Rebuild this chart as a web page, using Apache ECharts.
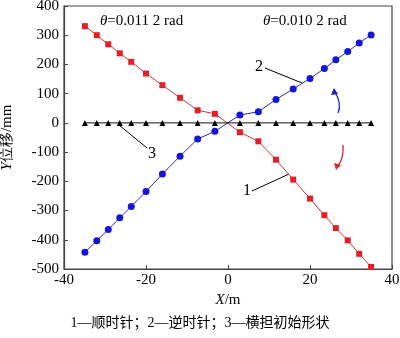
<!DOCTYPE html>
<html>
<head>
<meta charset="utf-8">
<script src="https://cdn.jsdelivr.net/npm/echarts@6/dist/echarts.min.js"></script>
<style>html,body{margin:0;padding:0;background:#fff;}#c{width:400px;height:338px;}</style>
</head>
<body>
<div id="c"></div>
<script>
// Data
var xs = [-34.9,-32.0,-29.2,-26.4,-23.6,-20.0,-16.0,-11.7,-7.4,-3.2,2.9,7.4,11.7,15.9,20.0,23.5,26.3,29.2,32.0,34.9];
var clockwise = [331,300,269,238,209,169,129,86,43,31,-32,-63,-126,-194,-259,-316,-360,-402,-448,-493];
var counterClockwise = [-443,-403,-365,-325,-286,-235,-175,-114,-55,-29,27,38,80,116,152,186,216,244,273,301];
var initialShape = [0,0,0,0,0,0,0,0,0,0,0,0,0,0,0,0,0,0,0,0];
var xTicks = [-40,-20,0,20,40];
var yTicks = [-500,-400,-300,-200,-100,0,100,200,300,400];

function pairs(ys){ return xs.map(function(x,i){ return [x, ys[i]]; }); }

var serif = '"Liberation Serif","Times New Roman",serif';
var chart = echarts.init(document.getElementById('c'));
chart.setOption({
  animation: false,
  grid: { left: 64, top: 6, right: 8, bottom: 69, show: true, borderColor: '#444', borderWidth: 1.2,
    containLabel: false, outerBoundsMode: 'none' },
  xAxis: {
    type: 'value', min: xTicks[0], max: xTicks[xTicks.length-1], interval: 20,
    name: '{i|X}/m', nameLocation: 'middle', nameGap: 24,
    nameTextStyle: { fontFamily: serif, fontSize: 15, color: '#000',
      rich: { i: { fontStyle: 'italic', fontFamily: serif, fontSize: 15, color: '#000' } } },
    axisLine: { show: true, onZero: false, lineStyle: { color: '#444', width: 1.2 } },
    axisTick: { show: true, inside: true, length: 4, lineStyle: { color: '#444' } },
    axisLabel: { fontFamily: serif, fontSize: 15, color: '#000', margin: 4 },
    splitLine: { show: false }
  },
  yAxis: {
    type: 'value', min: yTicks[0], max: yTicks[yTicks.length-1], interval: 100,
    name: '{i|Y}位移/mm', nameLocation: 'middle', nameGap: 49, nameRotate: 90,
    nameTextStyle: { fontFamily: serif, fontSize: 15, color: '#000',
      rich: { i: { fontStyle: 'italic', fontFamily: serif, fontSize: 15, color: '#000' } } },
    axisLine: { show: true, onZero: false, lineStyle: { color: '#444', width: 1.2 } },
    axisTick: { show: true, inside: true, length: 4, lineStyle: { color: '#444' } },
    axisLabel: { fontFamily: serif, fontSize: 15, color: '#000', margin: 5 },
    splitLine: { show: false }
  },
  series: [
    { name: '1', type: 'line', data: pairs(clockwise), symbol: 'rect', symbolSize: 6,
      lineStyle: { color: '#c8363a', width: 1 }, itemStyle: { color: '#e01f26' } },
    { name: '2', type: 'line', data: pairs(counterClockwise), symbol: 'circle', symbolSize: 7,
      lineStyle: { color: '#2a2aa8', width: 1 }, itemStyle: { color: '#1515d8' } },
    { name: '3', type: 'line', data: pairs(initialShape), symbol: 'triangle', symbolSize: 6,
      lineStyle: { color: '#111', width: 1 }, itemStyle: { color: '#000' } }
  ],
  graphic: [
    { type: 'text', left: 100, top: 14, style: { text: '{i|θ}=0.011 2 rad', font: '15px ' + serif, fill: '#000',
      rich: { i: { fontStyle: 'italic', fontSize: 15, fontFamily: serif } } } },
    { type: 'text', left: 263, top: 14, style: { text: '{i|θ}=0.010 2 rad', font: '15px ' + serif, fill: '#000',
      rich: { i: { fontStyle: 'italic', fontSize: 15, fontFamily: serif } } } },
    { type: 'text', x: 259, y: 67, style: { text: '2', font: '16px ' + serif, fill: '#000', align: 'center', verticalAlign: 'middle' } },
    { type: 'line', shape: { x1: 265, y1: 68, x2: 302, y2: 83 }, style: { stroke: '#000', lineWidth: 1 } },
    { type: 'text', x: 152, y: 154, style: { text: '3', font: '16px ' + serif, fill: '#000', align: 'center', verticalAlign: 'middle' } },
    { type: 'line', shape: { x1: 119, y1: 125, x2: 147, y2: 148 }, style: { stroke: '#000', lineWidth: 1 } },
    { type: 'text', x: 247, y: 191, style: { text: '1', font: '16px ' + serif, fill: '#000', align: 'center', verticalAlign: 'middle' } },
    { type: 'line', shape: { x1: 252, y1: 191, x2: 289, y2: 174 }, style: { stroke: '#000', lineWidth: 1 } },
    { type: 'bezierCurve', shape: { x1: 338, y1: 113, x2: 335, y2: 92, cpx1: 342, cpy1: 104 }, style: { stroke: '#1f1fc0', lineWidth: 1.3, fill: null } },
    { type: 'polygon', shape: { points: [[334, 88], [331, 95], [338, 94]] }, style: { fill: '#1f1fc0' } },
    { type: 'bezierCurve', shape: { x1: 343, y1: 145, x2: 338, y2: 166, cpx1: 344, cpy1: 158 }, style: { stroke: '#d4262c', lineWidth: 1.3, fill: null } },
    { type: 'polygon', shape: { points: [[336, 170], [334, 163], [341, 165]] }, style: { fill: '#d4262c' } },
    { type: 'text', x: 200, y: 323, style: { text: '1—顺时针；2—逆时针；3—横担初始形状', font: '14px "Liberation Serif","Noto Sans CJK SC",serif', fill: '#000', align: 'center', verticalAlign: 'middle' } }
  ]
});
</script>
</body>
</html>
